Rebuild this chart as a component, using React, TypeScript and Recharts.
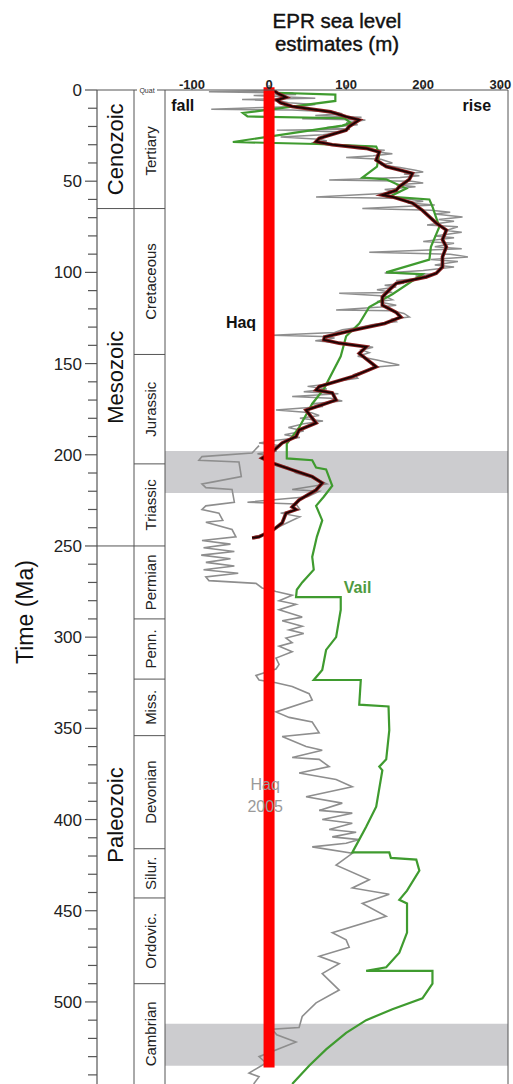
import React from 'react';
import { ComposedChart, Line, XAxis, YAxis, ReferenceArea, ReferenceLine, ReferenceDot } from 'recharts';

const W = 513;
const H = 1084;
const FONT = '"Liberation Sans", Arial, Helvetica, sans-serif';

// ---- axes / ticks ----
const seaLevelDomain = [-135, 310];
const timeDomain = [0, 545];
const seaLevelTicks = [-100, 0, 100, 200, 300];
const timeTicks = [0, 10, 20, 30, 40, 50, 60, 70, 80, 90, 100, 110, 120, 130, 140, 150, 160, 170, 180, 190, 200, 210, 220, 230, 240, 250, 260, 270, 280, 290, 300, 310, 320, 330, 340, 350, 360, 370, 380, 390, 400, 410, 420, 430, 440, 450, 460, 470, 480, 490, 500, 510, 520, 530, 540];
const timeLabelTicks = [0, 50, 100, 150, 200, 250, 300, 350, 400, 450, 500];

// ---- geologic time scale ----
const eraNames = ['Cenozoic', 'Mesozoic', 'Paleozoic'];
const eraBounds = [0, 65, 250, 545];
const periodNames = ['Tertiary', 'Cretaceous', 'Jurassic', 'Triassic', 'Permian', 'Penn.', 'Miss.', 'Devonian', 'Silur.', 'Ordovic.', 'Cambrian'];
const periodBounds = [1.8, 65, 145, 205, 250, 290, 323, 354, 416, 443, 490, 545];
const quatLabel = 'Quat';

// ---- shaded intervals (Ma) ----
const bandStarts = [198, 512];
const bandEnds = [221, 535];

// ---- series: [time Ma, sea level m] ----
const vailRaw = [
  [1.5, 10], [2.5, 86], [6, 86], [12.6, -34], [14.5, -28], [15.5, 98], [18, 106], [19.5, 95], [28.5, -47], [29.6, 62],
  [31, 139], [35, 143], [42, 140], [48, 121], [49, 152], [54, 178], [58.5, 156], [60, 208], [64, 212], [69, 216],
  [75, 221], [86, 210], [93, 208], [100, 152], [101, 199], [112, 160], [119, 130], [128, 117], [135, 100], [146, 93],
  [164, 71], [172, 56], [185, 39], [194, 23], [202, 23], [203, 56], [207, 61], [208, 74], [217, 82], [223, 71],
  [228, 61], [236, 69], [245, 62], [256, 56], [263, 58], [270, 43], [274, 36], [278, 35], [278, 93], [285, 93],
  [300, 87], [307, 74], [318, 69], [323.5, 58], [323.5, 119], [337, 117], [338, 155], [351, 156], [367, 152], [371, 143],
  [373, 147], [393, 139], [404, 126], [411, 117], [418, 108], [418, 156], [421, 158], [422, 191], [428, 195], [439, 179],
  [444, 169], [446, 179], [462, 179], [473, 169], [481, 152], [483, 126], [483, 212], [490, 212], [498, 199], [504, 160],
  [510, 126], [517, 100], [526, 74], [535, 52], [545, 30],
];

const haqRaw = [
  [0, 5], [2, 12], [4, 22], [5.5, 10], [7, 15], [9, 30], [12, 80], [14.6, 100], [16.4, 117], [20, 104],
  [22, 100], [26.5, 65], [28.3, 61], [30, 82], [32, 126], [34, 143], [38.4, 139], [42, 152], [45.7, 186], [49, 182],
  [53, 169], [55, 165], [57.6, 147], [58.6, 160], [62, 186], [66, 199], [73, 217], [76.8, 230], [82, 225], [86, 230],
  [91.5, 225], [97, 225], [100.5, 217], [102.5, 204], [106, 165], [109.6, 156], [113.5, 147], [118, 147], [122, 165], [124.5, 171],
  [128, 150], [131.6, 110], [135.4, 72], [137, 71], [138.8, 91], [140.8, 126], [144.4, 117], [151.8, 139], [157.2, 108], [162.6, 65],
  [164.5, 61], [166, 82], [170, 87], [173.7, 61], [175.5, 48], [182.6, 61], [186.4, 39], [190, 35], [193.5, 17], [198.5, 4],
  [201.8, -9], [204.5, 4], [208.3, 30], [212, 56], [215.5, 69], [219.3, 61], [224.8, 39], [228.6, 30], [230, 35], [232, 22],
  [237.4, 17], [241, 6], [245, -13], [245.6, -22],
];

const haqNoiseRaw = [
  [0, 10], [0.5, -5], [1, -78], [1.6, 30], [2.5, 35], [3, -20], [3.8, 25], [4.5, 60], [5.2, -35], [6, 15],
  [7, 25], [8, 60], [9, 40], [10.5, -75], [11, 30], [12, 85], [13, 95], [14, 60], [15, 120], [15.8, 43],
  [16.5, 125], [18, 100], [19, 115], [20.5, 75], [21.5, 105], [22, 10], [23, 95], [24.5, 70], [25.8, 15], [27, 65],
  [28, 75], [29, 55], [30, 90], [31, 135], [32, 110], [33, 150], [34, 140], [35, 160], [36, 135], [37, 100],
  [38, 145], [40, 160], [41, 145], [42.5, 170], [44, 190], [45, 200], [46, 175], [47, 195], [48, 170], [49.3, 78],
  [50, 185], [51, 200], [52, 165], [53, 190], [54.5, 150], [56, 170], [57, 135], [58.6, 61], [59.5, 175], [61, 200],
  [62, 180], [63, 215], [65, 121], [66, 210], [67, 235], [68, 215], [69.6, 251], [71, 220], [72, 240], [74, 205],
  [75, 245], [77, 230], [78, 250], [80, 215], [81, 240], [83, 200], [84, 240], [86, 215], [87, 250], [89, 130],
  [90, 235], [91.5, 258], [93, 210], [94, 245], [96, 215], [97, 240], [99, 200], [100.4, 150], [101, 215], [102, 190],
  [103, 205], [104.5, 165], [106, 175], [107, 150], [108, 165], [109.5, 140], [111, 160], [111.5, 91], [113, 150], [115, 160],
  [116, 140], [118, 165], [119, 145], [120.6, 87], [121, 160], [122.5, 175], [124.4, 182], [125.5, 160], [127, 165], [128.5, 135],
  [130, 120], [131.5, 95], [133, 85], [134.5, 4], [135.2, 70], [136, 85], [137.5, 60], [139, 100], [140, 115], [141, 135],
  [142.5, 120], [144, 130], [146, 115], [148, 140], [150.8, 169], [152, 135], [154, 125], [156, 110], [158, 115], [159.5, 90],
  [161, 80], [162.5, 50], [164, 75], [165.5, 45], [166.5, 90], [168, 30], [169, 80], [170.5, 95], [172, 55], [173.5, 70],
  [175.5, 9], [177, 55], [178.5, 65], [180, 40], [181.5, 70], [183, 45], [185, 25], [187, 45], [189, 20], [190.5, 40],
  [192, 10], [193.5, -13], [195, 15], [196.5, -5], [198, 10], [199.5, -15], [201, 5], [204, 0], [207, 25], [210, 35],
  [213, 60], [216, 75], [219, 30], [220, 65], [223, 50], [226, -28], [227, 35], [230, 40], [232, 15], [234, 40],
  [237, 25], [240, 10], [243, 0], [245, -20],
];

const haq2005Raw = [
  [195, -13], [199, -22], [201, -87], [203, -91], [204, -39], [212, -36], [215, -74], [216, -87], [218, -82], [219, -48],
  [226, -45], [228, -82], [230, -87], [232, -65], [236, -60], [237, -82], [241, -48], [245, -43], [247, -87], [249, -50],
  [251, -85], [253, -45], [255, -88], [257, -50], [259, -82], [261, -45], [263, -85], [265, -40], [267, -82], [269, -78],
  [270.5, -17], [273, -9], [275, 9], [277, 30], [280, 13], [282, 35], [285, 13], [289, 43], [291, 17], [294, 43],
  [296, 26], [298, 45], [300.5, 22], [303, 30], [305, 13], [308, 30], [311.5, 9], [315, 13], [317.5, 9], [321, -17],
  [323.5, -13], [325, 9], [327, 30], [331, 52], [334.5, 56], [341, 9], [344, 26], [346.5, 56], [352.5, 65], [354.5, 17],
  [360, 48], [362, 69], [366, 30], [367, 65], [371, 78], [374.5, 39], [378, 87], [382, 108], [387.5, 48], [391, 95],
  [395, 65], [396.5, 108], [400, 69], [402, 108], [405.5, 78], [407, 113], [409.5, 82], [411, 117], [413, 100], [415, 56],
  [418.5, 108], [425, 87], [433, 130], [437.5, 108], [441, 156], [446, 121], [453, 152], [462, 82], [466, 100], [470, 104],
  [475, 65], [479, 91], [484.5, 69], [493.5, 91], [500.5, 61], [508, 43], [514, 39], [515, 4], [518, 10], [522, 35],
  [525, 17], [530, -13], [533.5, -4], [539, -26], [541, -13], [545, -20],
];

const toPts = (arr: number[][]) => arr.map(([t, v]) => ({ t, v }));
const vail = toPts(vailRaw);
const haq = toPts(haqRaw);
const haqNoise = toPts(haqNoiseRaw);
const haq2005 = toPts(haq2005Raw);

// ---- annotations ----
const annotations = [
  { text: 'fall', v: -127, t: 11.5, color: '#111', size: 16, weight: 'bold', anchor: 'start' },
  { text: 'rise', v: 288, t: 11.5, color: '#111', size: 16, weight: 'bold', anchor: 'end' },
  { text: 'Haq', v: -56, t: 130.5, color: '#111', size: 16, weight: 'bold', anchor: 'start' },
  { text: 'Vail', v: 97, t: 275.6, color: '#4f9a3f', size: 16, weight: 'bold', anchor: 'start' },
  { text: 'Haq', v: -5, t: 383.8, color: '#9a9a9a', size: 16, weight: 'normal', anchor: 'middle' },
  { text: '2005', v: -5, t: 395.7, color: '#9a9a9a', size: 16, weight: 'normal', anchor: 'middle' },
];

const PERIOD_W = 31;
const ERA_W = 37;
const TIME_W = 97;
const LINE = '#555';

const mids = (b: number[]) => b.slice(0, -1).map((x, i) => (x + b[i + 1]) / 2);
const periodMids = mids(periodBounds);
const eraMids = mids(eraBounds);
const periodTicks = [0, ...periodBounds.slice(1, -1), ...periodMids];
const eraTicks = [...eraBounds.slice(0, -1), ...eraMids];
const near = (a: number, b: number) => Math.abs(a - b) < 1e-6;

const PeriodTick = (props: any) => {
  const { x, y, payload } = props;
  const v = payload.value;
  const left = x - PERIOD_W;
  const mi = periodMids.findIndex((m) => near(m, v));
  if (mi >= 0) {
    return (
      <text transform={`translate(${x - PERIOD_W / 2 + 1},${y}) rotate(-90)`} textAnchor="middle" dominantBaseline="central" fontSize={15} fontFamily={FONT} fill="#222">
        {periodNames[mi]}
      </text>
    );
  }
  if (near(v, 0)) {
    return (
      <g>
        <line x1={left} x2={left + 3} y1={y} y2={y} stroke={LINE} />
        <text x={left + 13} y={y + 2.5} textAnchor="middle" fontSize={7} fontFamily={FONT} fill="#333">{quatLabel}</text>
        <line x1={left + 23} x2={x} y1={y} y2={y} stroke={LINE} />
      </g>
    );
  }
  return <line x1={left} x2={x} y1={y} y2={y} stroke={LINE} />;
};

const EraTick = (props: any) => {
  const { x, y, payload } = props;
  const v = payload.value;
  const mi = eraMids.findIndex((m) => near(m, v));
  if (mi >= 0) {
    return (
      <text transform={`translate(${x - ERA_W / 2},${y}) rotate(-90)`} textAnchor="middle" dominantBaseline="central" fontSize={22} fontFamily={FONT} fill="#111">
        {eraNames[mi]}
      </text>
    );
  }
  return <line x1={x - ERA_W} x2={x} y1={y} y2={y} stroke={LINE} />;
};

const TimeTick = (props: any) => {
  const { x, y, payload } = props;
  const v = payload.value;
  const major = timeLabelTicks.some((m) => near(m, v));
  return (
    <g>
      <line x1={x - (major ? 12 : 9)} x2={x} y1={y} y2={y} stroke={LINE} strokeWidth={1.2} />
      {major && (
        <text x={x - 15} y={y + 6} textAnchor="end" fontSize={17} fontFamily={FONT} fill="#222">{v}</text>
      )}
    </g>
  );
};

const SeaTick = (props: any) => {
  const { x, y, payload } = props;
  return (
    <g>
      <line x1={x} x2={x} y1={y} y2={y - 5} stroke={LINE} />
      <text x={x} y={y - 1} textAnchor="middle" fontSize={13} fontWeight="bold" fontFamily={FONT} fill="#222">{payload.value}</text>
    </g>
  );
};

export default function App() {
  return (
    <div style={{ position: 'absolute', left: 0, top: 0, width: W, height: H, background: '#fff' }}>
      <ComposedChart width={W} height={H} layout="vertical" margin={{ top: 60, right: 4, bottom: 0, left: 0 }}>
        <XAxis type="number" orientation="top" dataKey="v" domain={seaLevelDomain} allowDataOverflow ticks={seaLevelTicks} interval={0} height={30}
          tickSize={0} tickMargin={0} tick={SeaTick} axisLine={{ stroke: LINE }} tickLine={false} />
        <YAxis yAxisId="a" type="number" dataKey="t" domain={timeDomain} allowDataOverflow width={PERIOD_W} ticks={periodTicks} interval={0}
          tickSize={0} tickMargin={0} tick={PeriodTick} tickLine={false} axisLine={{ stroke: LINE }} />
        <YAxis yAxisId="b" type="number" dataKey="t" domain={timeDomain} allowDataOverflow width={ERA_W} ticks={eraTicks} interval={0}
          tickSize={0} tickMargin={0} tick={EraTick} tickLine={false} axisLine={{ stroke: LINE }} />
        <YAxis yAxisId="c" type="number" dataKey="t" domain={timeDomain} allowDataOverflow width={TIME_W} ticks={timeTicks} interval={0}
          tickSize={0} tickMargin={0} tick={TimeTick} tickLine={false} axisLine={{ stroke: LINE, strokeWidth: 1.2 }} />
        <YAxis yAxisId="r" orientation="right" type="number" dataKey="t" domain={timeDomain} allowDataOverflow width={1}
          tick={false} tickLine={false} axisLine={{ stroke: LINE }} />

        {bandStarts.map((s, i) => (
          <ReferenceArea key={'b' + i} yAxisId="c" y1={s} y2={bandEnds[i]} fill="#c6c7ca" fillOpacity={0.9} stroke="none" />
        ))}

        <Line yAxisId="c" data={haqNoise} dataKey="v" stroke="#7a7a7a" strokeWidth={1.5} strokeOpacity={0.85} dot={false} isAnimationActive={false} />
        <Line yAxisId="c" data={haq2005} dataKey="v" stroke="#8e8e8e" strokeWidth={1.6} dot={false} isAnimationActive={false} />
        <Line yAxisId="c" data={vail} dataKey="v" stroke="#3f9b2f" strokeWidth={2.2} dot={false} isAnimationActive={false} />
        <Line yAxisId="c" data={haq} dataKey="v" stroke="#8a1f1f" strokeWidth={3.6} dot={false} isAnimationActive={false} />
        <Line yAxisId="c" data={haq} dataKey="v" stroke="#1a0404" strokeWidth={1.8} dot={false} isAnimationActive={false} />

        {annotations.map((a, i) => (
          <ReferenceDot key={'a' + i} yAxisId="c" x={a.v} y={a.t} r={0} ifOverflow="visible"
            shape={(p: any) => (
              <text x={p.cx} y={p.cy} textAnchor={a.anchor as any} fontSize={a.size} fontWeight={a.weight} fontFamily={FONT} fill={a.color}>{a.text}</text>
            )} />
        ))}

        <ReferenceLine yAxisId="c" segment={[{ x: 0, y: -1.5 }, { x: 0, y: 536 }]} stroke="#ff0000" strokeWidth={11} ifOverflow="visible" />
      </ComposedChart>
      <svg width={W} height={H} style={{ position: 'absolute', left: 0, top: 0, pointerEvents: 'none' }}>
        <text x={337} y={28} textAnchor="middle" fontSize={20.5} fontFamily={FONT} fill="#111" stroke="#111" strokeWidth={0.4}>EPR sea level</text>
        <text x={337} y={51} textAnchor="middle" fontSize={20.5} fontFamily={FONT} fill="#111" stroke="#111" strokeWidth={0.4}>estimates (m)</text>
        <text transform="translate(33,612) rotate(-90)" textAnchor="middle" fontSize={23} fontFamily={FONT} fill="#111">Time (Ma)</text>
      </svg>
    </div>
  );
}
